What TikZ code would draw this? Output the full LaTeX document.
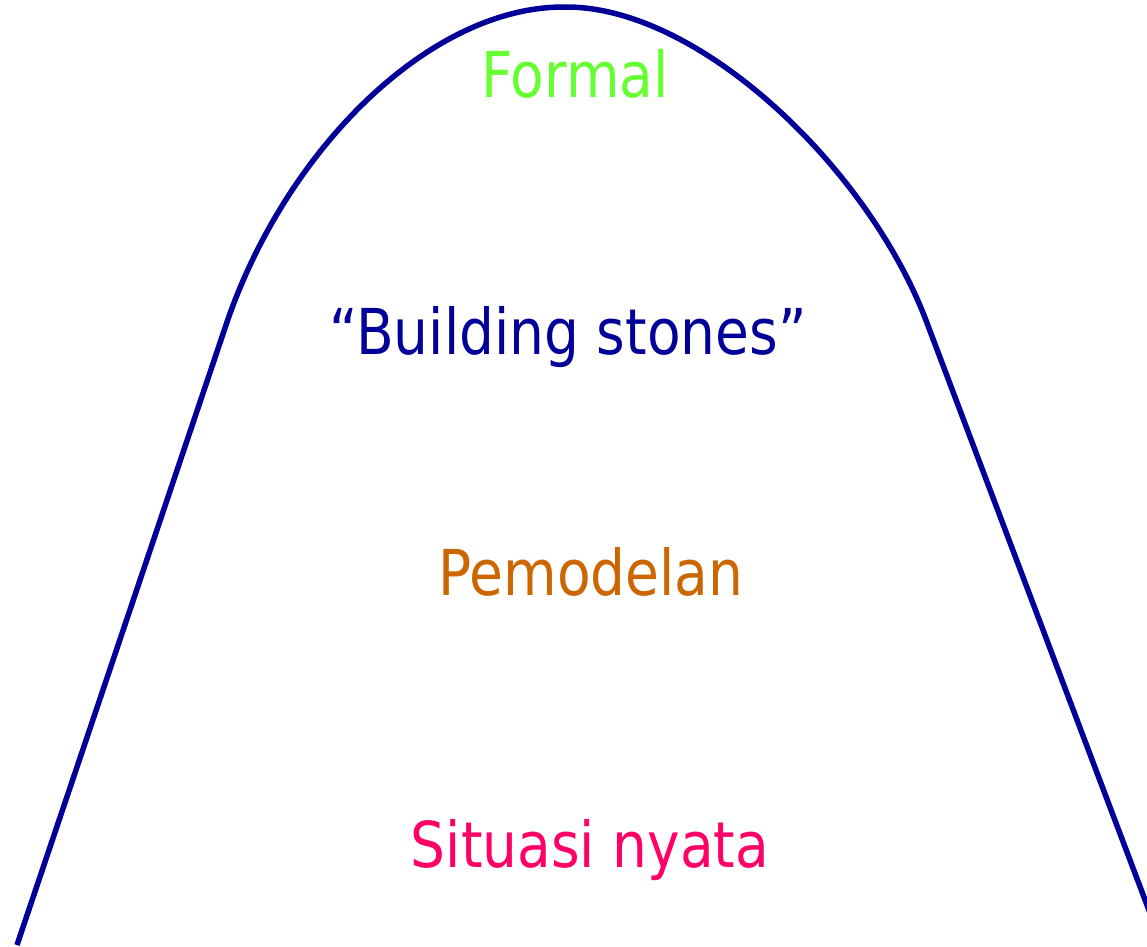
\documentclass[tikz,border=0pt]{standalone}
\usepackage{fontspec}
\setmainfont{DejaVu Sans}[FakeStretch=0.87]
\usetikzlibrary{positioning}
\definecolor{biruTua}{HTML}{000099}
\definecolor{hijau}{HTML}{66FF33}
\definecolor{oranye}{HTML}{CC6600}
\definecolor{merahMuda}{HTML}{FF0066}

\begin{document}
\begin{tikzpicture}[
  x=0.02cm, y=-0.02cm,
  teks/.style={font=\fontsize{36}{40}\selectfont, anchor=base, inner sep=0pt},
  kurva/.style={draw=biruTua, line width=0.11cm, line join=round}
]

% ukuran gambar dalam piksel, sumbu y ke bawah
\useasboundingbox (0,0) rectangle (1147,947);

% ---- kurva lonceng ------------------------------------------------
\draw[kurva] (17,945) -- (226,325)
  .. controls (285,150) and (430,6) .. (565,7)
  .. controls (700,6) and (870,170) .. (927,323)
  -- (1150,913);

% ---- tingkatan ----------------------------------------------------
\node[teks, text=hijau]     (formal)   at (575,97)  {Formal};
\node[teks, text=biruTua]   (batu)     at (568,354) {“Building stones”};
\node[teks, text=oranye]    (model)    at (591,595) {Pemodelan};
\node[teks, text=merahMuda] (situasi)  at (590,867) {Situasi nyata};

\end{tikzpicture}
\end{document}
